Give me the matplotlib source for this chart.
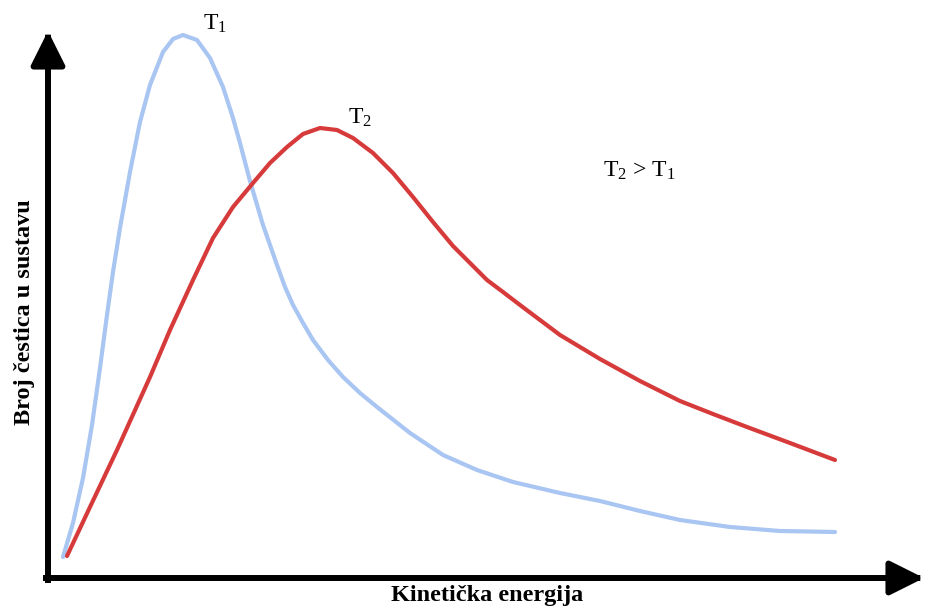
import matplotlib.pyplot as plt
from matplotlib.patches import ArrowStyle

plt.rcParams['font.family'] = ['Liberation Serif', 'DejaVu Serif']
plt.rcParams['mathtext.fontset'] = 'custom'
plt.rcParams['mathtext.rm'] = 'Liberation Serif'
plt.rcParams['mathtext.it'] = 'Liberation Serif'

# energy (x) and particle count (y), arbitrary units
energy_t1 = [15, 25, 35, 44, 52, 59, 65, 72, 82, 92, 102, 115, 125, 135, 149, 162, 175,
             185, 192, 202, 215, 229, 237, 245, 255, 265, 280, 295, 312, 329, 362, 395,
             429, 465, 512, 552, 592, 632, 682, 732, 787]
count_t1 = [21, 55, 100, 153, 210, 263, 306, 350, 406, 456, 493, 526, 539, 543, 538, 520, 491,
            460, 435, 397, 353, 313, 291, 273, 255, 238, 218, 201, 185, 171, 145, 123,
            108, 96, 85, 77, 67, 58, 51, 47, 46]

energy_t2 = [19, 42, 69, 102, 122, 145, 165, 185, 205, 222, 239, 255, 272, 289, 305, 325,
             345, 365, 385, 405, 422, 439, 455, 472, 492, 512, 532, 552, 592, 632, 665,
             699, 742, 787]
count_t2 = [22, 71, 128, 201, 248, 298, 340, 371, 395, 415, 431, 444, 450, 448, 440, 425,
            405, 381, 356, 332, 315, 298, 286, 273, 258, 243, 231, 219, 197, 177, 164,
            151, 135, 118]

x_label = "Kinetička energija"
y_label = "Broj čestica u sustavu"

fig = plt.figure(figsize=(9.27, 6.08), dpi=100)
ax = fig.add_axes([0, 0, 1, 1])
ax.set_xlim(-48, 879)
ax.set_ylim(-30, 578)
ax.axis("off")

blue = "#a9c5f2"
red = "#d63a3a"

ax.plot(energy_t1, count_t1, color=blue, lw=3.0, solid_capstyle="round",
        solid_joinstyle="round")
ax.plot(energy_t2, count_t2, color=red, lw=3.0, solid_capstyle="round",
        solid_joinstyle="round")

# axes drawn as thick arrows
style = ArrowStyle("-|>", head_length=0.4, head_width=0.2)
arrow = dict(arrowstyle=style, color="black", lw=4.3, mutation_scale=52,
             shrinkA=0, shrinkB=0, capstyle="projecting")
ax.annotate("", xy=(0, 547), xytext=(0, -2), arrowprops=arrow)
ax.annotate("", xy=(876, 0), xytext=(-2, 0), arrowprops=arrow)

ax.text(439, -18, x_label, ha="center", va="center", fontsize=17.5, fontweight="bold")
ax.text(-23, 266, y_label, ha="center", va="center", fontsize=17.5, fontweight="bold",
        rotation=90)

ax.text(155, 548, r"T$_1$", fontsize=17, ha="left", va="baseline")
ax.text(300, 454, r"T$_2$", fontsize=17, ha="left", va="baseline")
ax.text(555, 401, r"T$_2$ > T$_1$", fontsize=17, ha="left", va="baseline")

fig.savefig("out.png", dpi=100)
